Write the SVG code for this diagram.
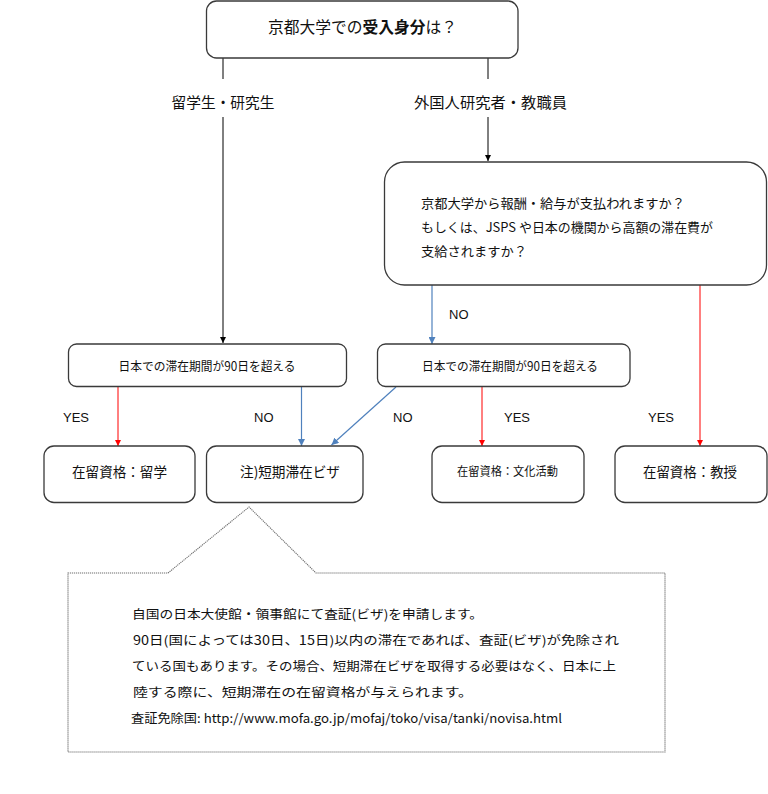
<svg xmlns="http://www.w3.org/2000/svg" width="768" height="794" viewBox="0 0 768 794">
<style>
.box{fill:#fff;stroke:#3a3a3a;stroke-width:1.3}
.jp{font-family:"Noto Sans CJK JP","Noto Sans",sans-serif;fill:#111}
.en{font-family:"Liberation Sans",Arial,sans-serif;font-size:13px;fill:#111}
.k{stroke:#000;stroke-width:1;fill:none}
.r{stroke:#f00;stroke-width:1;fill:none}
.b{stroke:#4f81bd;stroke-width:1.2;fill:none}
</style>
<defs>
<marker id="ak" viewBox="0 0 6 6" refX="6" refY="3" markerWidth="6" markerHeight="6" orient="auto" markerUnits="userSpaceOnUse"><path d="M0,0 L6,3 L0,6 z" fill="#000"/></marker>
<marker id="ar" viewBox="0 0 6 6" refX="6" refY="3" markerWidth="6" markerHeight="6" orient="auto" markerUnits="userSpaceOnUse"><path d="M0,0 L6,3 L0,6 z" fill="#f00"/></marker>
<marker id="ab" viewBox="0 0 6 6" refX="6" refY="3" markerWidth="7" markerHeight="7" orient="auto" markerUnits="userSpaceOnUse"><path d="M0,0 L6,3 L0,6 z" fill="#4f81bd"/></marker>
</defs>
<rect width="768" height="794" fill="#fff"/>

<g id="connectors">
<line class="k" x1="223" y1="58" x2="223" y2="343" marker-end="url(#ak)"/>
<line class="k" x1="488" y1="58" x2="488" y2="161" marker-end="url(#ak)"/>
<line class="b" x1="432" y1="285" x2="432" y2="344" marker-end="url(#ab)"/>
<line class="r" x1="700" y1="285" x2="700" y2="446" marker-end="url(#ar)"/>
<line class="r" x1="118" y1="387" x2="118" y2="446" marker-end="url(#ar)"/>
<line class="b" x1="301.5" y1="387" x2="301.5" y2="446" marker-end="url(#ab)"/>
<line class="b" x1="396" y1="387" x2="331.5" y2="445" marker-end="url(#ab)"/>
<line class="r" x1="482" y1="387" x2="482" y2="446" marker-end="url(#ar)"/>
<g id="edge-labels">
<rect x="168" y="79" width="110" height="38" fill="#fff"/>
<text class="jp" x="223" y="108" font-size="15" text-anchor="middle" textLength="103" lengthAdjust="spacingAndGlyphs">留学生・研究生</text>
<rect x="410" y="79" width="160" height="38" fill="#fff"/>
<text class="jp" x="490.5" y="108" font-size="15" text-anchor="middle" textLength="153" lengthAdjust="spacingAndGlyphs">外国人研究者・教職員</text>
<text class="en" x="449" y="319">NO</text>
<text class="en" x="648" y="422">YES</text>
<text class="en" x="63" y="422">YES</text>
<text class="en" x="254" y="422">NO</text>
<text class="en" x="393" y="422">NO</text>
<text class="en" x="504" y="422">YES</text>
</g>
</g>

<g id="n-top">
<rect class="box" x="206.5" y="1" width="311.5" height="57" rx="10"/>
<text class="jp" x="362.5" y="33" font-size="15.5" text-anchor="middle" textLength="189" lengthAdjust="spacingAndGlyphs">京都大学での<tspan font-weight="bold">受入身分</tspan>は？</text>
</g>

<g id="n-question">
<rect class="box" x="384.5" y="162" width="382" height="123" rx="20"/>
<text class="jp" x="421" y="208" font-size="13" textLength="264" lengthAdjust="spacingAndGlyphs">京都大学から報酬・給与が支払われますか？</text>
<text class="jp" x="421" y="232" font-size="13" textLength="292" lengthAdjust="spacingAndGlyphs">もしくは、JSPS や日本の機関から高額の滞在費が</text>
<text class="jp" x="421" y="256" font-size="13" textLength="106" lengthAdjust="spacingAndGlyphs">支給されますか？</text>
</g>

<g id="n-stay-a">
<rect class="box" x="68.5" y="344" width="278" height="42.5" rx="8"/>
<text class="jp" x="207" y="371" font-size="12.5" text-anchor="middle" textLength="177" lengthAdjust="spacingAndGlyphs">日本での滞在期間が90日を超える</text>
</g>

<g id="n-stay-b">
<rect class="box" x="377.5" y="344" width="252.5" height="42.5" rx="8"/>
<text class="jp" x="510" y="371" font-size="12.5" text-anchor="middle" textLength="176" lengthAdjust="spacingAndGlyphs">日本での滞在期間が90日を超える</text>
</g>

<g id="n-ryugaku">
<rect class="box" x="44" y="446" width="151" height="56.5" rx="10"/>
<text class="jp" x="119.5" y="477" font-size="14" text-anchor="middle" textLength="95" lengthAdjust="spacingAndGlyphs">在留資格：留学</text>
</g>

<g id="n-tanki">
<rect class="box" x="206.5" y="446" width="156.5" height="56.5" rx="10"/>
<text class="jp" x="290" y="477" font-size="14" text-anchor="middle" textLength="100" lengthAdjust="spacingAndGlyphs">注)短期滞在ビザ</text>
</g>

<g id="n-bunka">
<rect class="box" x="432" y="446" width="152" height="56.5" rx="10"/>
<text class="jp" x="507.5" y="476" font-size="12" text-anchor="middle" textLength="101" lengthAdjust="spacingAndGlyphs">在留資格：文化活動</text>
</g>

<g id="n-kyoju">
<rect class="box" x="615" y="446" width="152" height="56.5" rx="10"/>
<text class="jp" x="690" y="477" font-size="14" text-anchor="middle" textLength="94" lengthAdjust="spacingAndGlyphs">在留資格：教授</text>
</g>

<g id="n-note">
<path d="M68,573 L168,573 L249,507 L316,573 L665,573 L665,752 L68,752 Z" fill="#fff" stroke="#6e6e6e" stroke-width="1.1" stroke-dasharray="1.2 0.8"/>
<text class="jp" x="132" y="619" font-size="12.5" textLength="351" lengthAdjust="spacingAndGlyphs">自国の日本大使館・領事館にて査証(ビザ)を申請します。</text>
<text class="jp" x="133" y="645" font-size="12.5" textLength="486" lengthAdjust="spacingAndGlyphs">90日(国によっては30日、15日)以内の滞在であれば、査証(ビザ)が免除され</text>
<text class="jp" x="132" y="671" font-size="12.5" textLength="484" lengthAdjust="spacingAndGlyphs">ている国もあります。その場合、短期滞在ビザを取得する必要はなく、日本に上</text>
<text class="jp" x="133" y="697" font-size="12.5" textLength="340" lengthAdjust="spacingAndGlyphs">陸する際に、短期滞在の在留資格が与えられます。</text>
<text class="jp" x="131" y="723" font-size="12.5" textLength="431" lengthAdjust="spacingAndGlyphs">査証免除国: http://www.mofa.go.jp/mofaj/toko/visa/tanki/novisa.html</text>
</g>
</svg>
